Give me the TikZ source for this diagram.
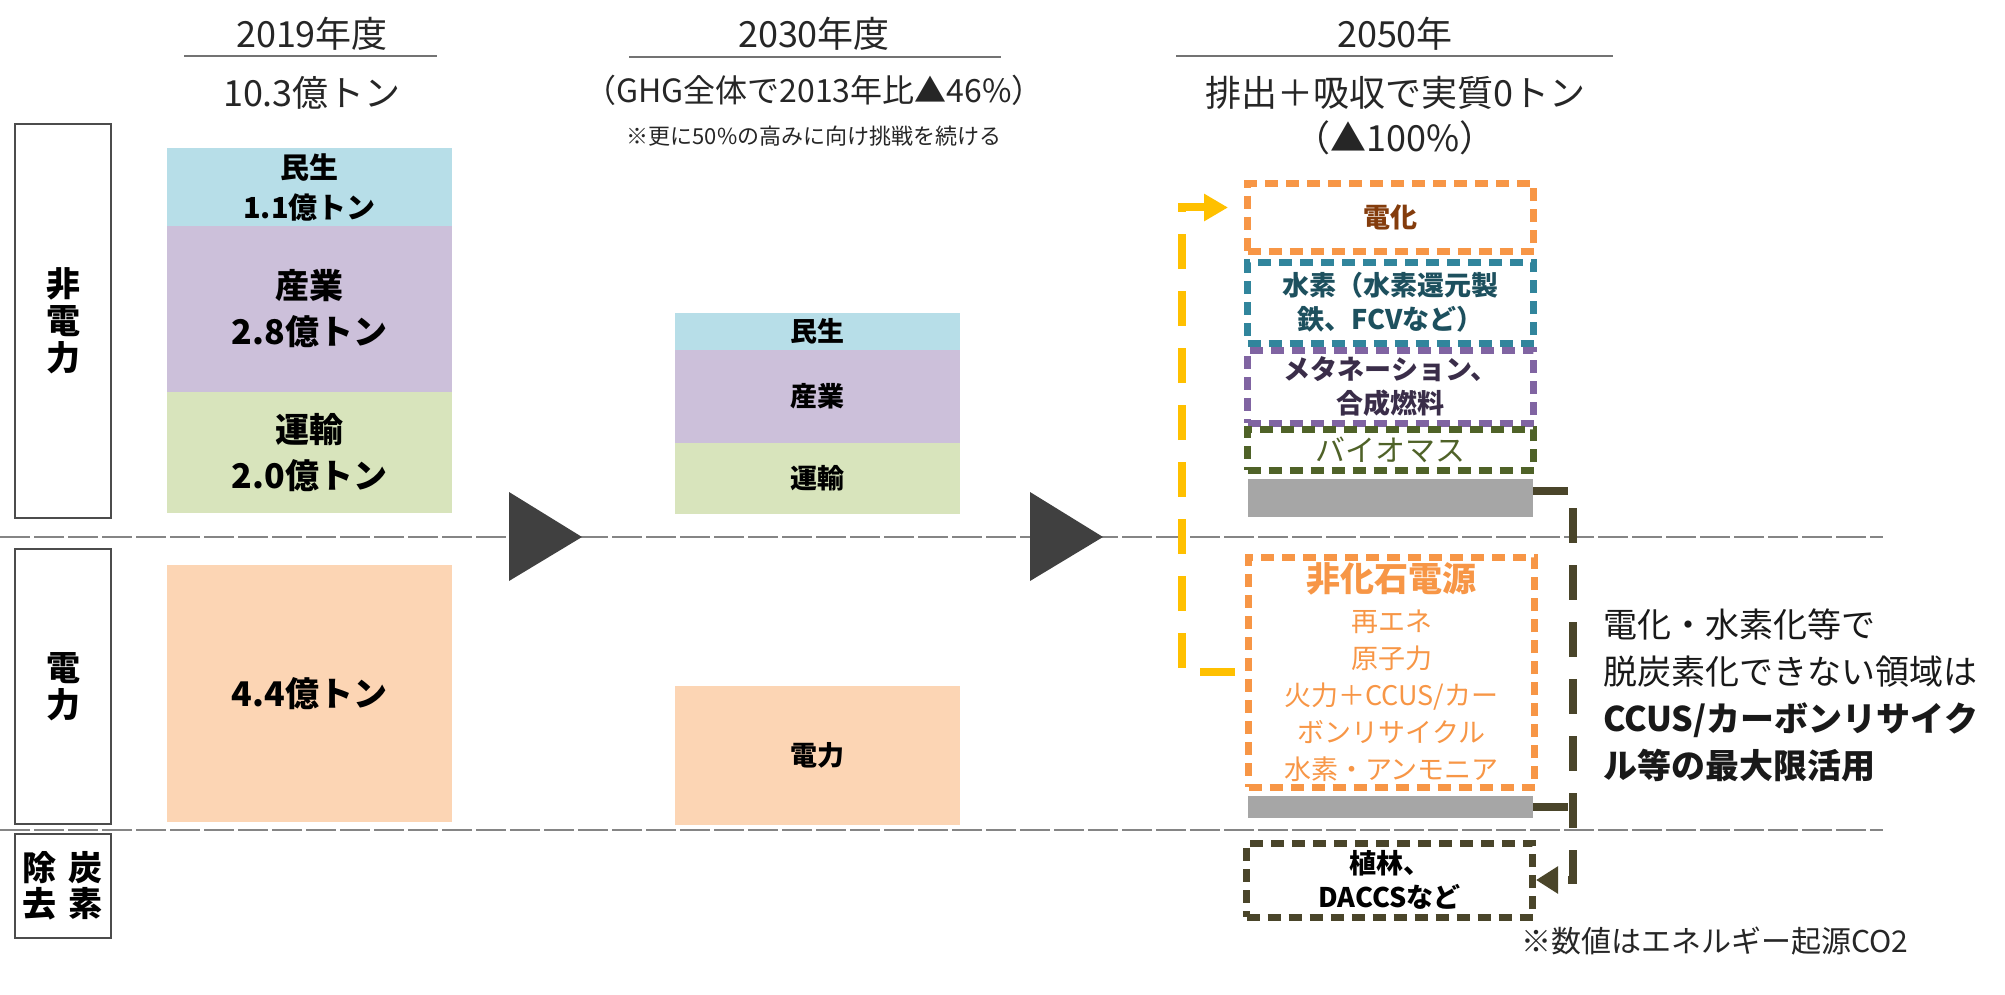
\documentclass[tikz,border=0pt]{standalone}
\usepackage{fontspec}
\setmainfont{Noto Sans CJK JP}
\usetikzlibrary{arrows.meta}
\definecolor{minsei}{HTML}{B7DEE8}
\definecolor{sangyo}{HTML}{CCC0DA}
\definecolor{unyu}{HTML}{D8E4BC}
\definecolor{denryoku}{HTML}{FCD5B4}
\definecolor{korange}{HTML}{F79646}
\definecolor{kteal}{HTML}{31859C}
\definecolor{kpurple}{HTML}{8064A2}
\definecolor{kolive}{HTML}{4F6228}
\definecolor{kdark}{HTML}{4A452A}
\definecolor{kyellow}{HTML}{FFC000}
\definecolor{kbrown}{HTML}{843C0C}
\tikzset{
	title/.style={font=\fontsize{36}{40}\selectfont, text=black!85, inner sep=0pt},
	uline/.style={draw=black!55, line width=2pt},
	divline/.style={draw=black!48, line width=2.5pt, dash pattern=on 30pt off 4pt},
	sidebox/.style={draw=black!70, line width=2pt, minimum width=96pt, inner sep=0pt, align=center, font=\bfseries\fontsize{34}{37}\selectfont},
	blk/.style={fill=#1, inner sep=0pt, minimum width=285pt, align=center},
	big/.style={font=\bfseries\fontsize{34}{46}\selectfont},
	small/.style={font=\bfseries\fontsize{27}{34}\selectfont},
	tri/.style={fill=black!75},
	goalbox/.style={draw=#1, line width=7pt, dash pattern=on 13pt off 8pt, minimum width=286pt, inner sep=0pt, align=center, font=\bfseries\fontsize{27}{34}\selectfont},
	grybar/.style={fill=black!35, minimum width=285pt, inner sep=0pt},
	ylwline/.style={draw=kyellow, line width=8pt, dash pattern=on 35pt off 22pt, -{Triangle[length=24pt,width=26pt]}},
	drkline/.style={draw=kdark, line width=8pt, dash pattern=on 35pt off 22pt},
}

\begin{document}
\begin{tikzpicture}[x=1pt,y=-1pt]
		%%%%% START %%%%%
		\useasboundingbox (0,0) rectangle (2005,995);
		
		% headings
		\node[title] (h19) at (312,34) {2019年度};
		\draw[uline] (184,56) -- (437,56);
		\node[title] (t19) at (312,93) {10.3億トン};
		
		\node[title] (h30) at (814,34) {2030年度};
		\draw[uline] (629,57) -- (1001,57);
		\node[title, font=\fontsize{32}{36}\selectfont] (t30) at (814,90) {（GHG全体で2013年比▲46\%）};
		\node[title, font=\fontsize{22}{26}\selectfont] (n30) at (814,136) {※更に50\%の高みに向け挑戦を続ける};
		
		\node[title] (h50) at (1395,34) {2050年};
		\draw[uline] (1176,56) -- (1613,56);
		\node[title] (t50) at (1395,93) {排出＋吸収で実質0トン};
		\node[title] (p50) at (1395,138) {（▲100\%）};
		
		% row labels
		\node[sidebox, minimum height=394pt] (hidenryoku) at (63,321) {非\\電\\力};
		\node[sidebox, minimum height=275pt] (denryokulbl) at (63,686.5) {電\\力};
		\node[sidebox, minimum height=104pt, font=\bfseries\fontsize{34}{36}\selectfont] (jokyo) at (63,886) {除\hspace{12pt}炭\\去\hspace{12pt}素};
		
		\draw[divline] (0,537) -- (1883,537);
		\draw[divline] (0,830) -- (1883,830);
		
		% 2019
		\node[blk=minsei, minimum height=78pt, font=\bfseries\fontsize{29}{40}\selectfont] (ms19) at (309.5,187) {民生\\1.1億トン};
		\node[blk=sangyo, minimum height=166pt, big] (sg19) at (309.5,309) {産業\\2.8億トン};
		\node[blk=unyu, minimum height=121pt, big] (uy19) at (309.5,452.5) {運輸\\2.0億トン};
		\node[blk=denryoku, minimum height=257pt, big] (dr19) at (309.5,693.5) {4.4億トン};
		
		\fill[tri] (509,492) -- (509,581) -- (582,537) -- cycle;
		
		% 2030
		\node[blk=minsei, minimum height=37pt, small] (ms30) at (817.5,331.5) {民生};
		\node[blk=sangyo, minimum height=93pt, small] (sg30) at (817.5,396.5) {産業};
		\node[blk=unyu, minimum height=71pt, small] (uy30) at (817.5,478.5) {運輸};
		\node[blk=denryoku, minimum height=139pt, small] (dr30) at (817.5,755.5) {電力};
		
		\fill[tri] (1030,492) -- (1030,581) -- (1103,537) -- cycle;
		
		% 2050
		\node[goalbox=korange, minimum height=67pt, text=kbrown] (denka) at (1390.5,217.5) {電化};
		\node[goalbox=kteal, minimum height=81pt, text=kteal!60!black] (suiso) at (1390.5,302.5) {水素（水素還元製\\鉄、FCVなど）};
		\node[goalbox=kpurple, minimum height=73pt, text=kpurple!45!black] (methane) at (1390.5,386.5) {メタネーション、\\合成燃料};
		\node[goalbox=kolive, minimum height=41pt, text=kolive, font=\fontsize{30}{32}\selectfont] (bio) at (1390.5,449.5) {バイオマス};
		\node[grybar, minimum height=38pt] (bar1) at (1390.5,498) {};
		
		\node[goalbox=korange, minimum height=230pt, text=korange, font=\fontsize{27}{37}\selectfont] (hikaseki) at (1391.5,672) {{\bfseries\fontsize{34}{37}\selectfont 非化石電源}\\[3pt]再エネ\\原子力\\火力＋CCUS/カー\\ボンリサイクル\\水素・アンモニア};
		\node[grybar, minimum height=22pt] (bar2) at (1390.5,807) {};
		
		\node[goalbox=kdark, minimum height=74pt, text=black] (shokurin) at (1389.5,880) {植林、\\DACCSなど};
		
		% connectors
		\draw[ylwline, shorten <=10pt, shorten >=16pt] (hikaseki.west) -- ++(-63,0) |- ([yshift=10pt]denka.west);
		\draw[drkline, -{Triangle[length=22pt,width=26pt]}] ([yshift=7pt]bar1.east) -- ++(40,0) |- (shokurin.east);
		\draw[drkline] (bar2.east) -- ++(40,0);
		
		% notes
		\node[anchor=west, align=left, inner sep=0pt, font=\fontsize{34}{47}\selectfont, text=black!90] (memo) at (1603,695) {電化・水素化等で\\脱炭素化できない領域は\\\textbf{CCUS/カーボンリサイク}\\\textbf{ル等の最大限活用}};
		\node[anchor=west, inner sep=0pt, font=\fontsize{30}{34}\selectfont, text=black!85] (foot) at (1521,941) {※数値はエネルギー起源CO2};
		
		%%%%% END %%%%%
\end{tikzpicture}
\end{document}
